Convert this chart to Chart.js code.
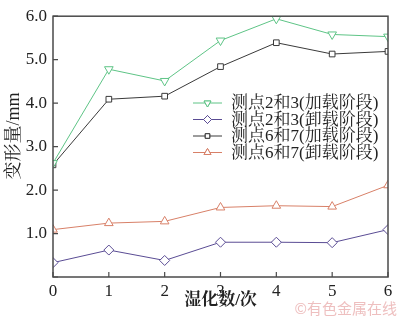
<!DOCTYPE html>
<html>
<head>
<meta charset="utf-8">
<script src="https://cdn.jsdelivr.net/npm/chart.js@4/dist/chart.umd.min.js"></script>
<style>
  html, body { margin: 0; padding: 0; background: #fff; }
  #wrap { width: 400px; height: 323px; position: relative; }
</style>
</head>
<body>
<div id="wrap"><canvas id="deformChart"></canvas></div>
<script>
// 湿化次数
const cycles = [0, 1, 2, 3, 4, 5, 6];

// 变形量 (mm)
const p23Load = [2.62, 4.78, 4.51, 5.44, 5.94, 5.58, 5.53];
const p23Unload = [0.33, 0.62, 0.38, 0.80, 0.80, 0.79, 1.09];
const p67Load = [2.58, 4.09, 4.16, 4.84, 5.39, 5.13, 5.19];
const p67Unload = [1.09, 1.24, 1.28, 1.60, 1.64, 1.62, 2.11];

const seriesNames = [
    '测点2和3(加载阶段)',
    '测点2和3(卸载阶段)',
    '测点6和7(加载阶段)',
    '测点6和7(卸载阶段)'
];

const serif = '"Liberation Serif", "Noto Sans CJK SC", serif';
const cjk = '"Liberation Serif", "Noto Serif CJK SC", "Noto Sans CJK SC", serif';
const axisColor = '#4a4a4a';

function toPoints(ys) {
    return ys.map((y, i) => ({ x: cycles[i], y: y }));
}

// Box, inward ticks, axis titles, legend and watermark
const decorations = {
    id: 'decorations',
    afterDraw(chart) {
        const ctx = chart.ctx;
        const area = chart.chartArea;
        const xs = chart.scales.x;
        const ys = chart.scales.y;
        ctx.save();
        ctx.strokeStyle = axisColor;
        ctx.lineWidth = 1.5;
        ctx.strokeRect(area.left, area.top, area.right - area.left, area.bottom - area.top);

        ctx.lineWidth = 1.2;
        ctx.beginPath();
        xs.ticks.forEach(t => {
            const px = xs.getPixelForValue(t.value);
            ctx.moveTo(px, area.bottom);
            ctx.lineTo(px, area.bottom - 5);
        });
        ys.ticks.forEach(t => {
            const py = ys.getPixelForValue(t.value);
            ctx.moveTo(area.left, py);
            ctx.lineTo(area.left + 5, py);
        });
        ctx.stroke();

        // axis titles
        ctx.fillStyle = '#222';
        ctx.font = 'bold 17px ' + cjk;
        ctx.textAlign = 'center';
        ctx.textBaseline = 'middle';
        ctx.fillText('湿化数/次', (area.left + area.right) / 2, 301);
        ctx.save();
        ctx.translate(14, 136);
        ctx.rotate(-Math.PI / 2);
        ctx.font = '18px ' + cjk;
        ctx.fillText('变形量/mm', 0, 0);
        ctx.restore();

        // legend
        ctx.font = '17px ' + cjk;
        ctx.textAlign = 'left';
        chart.data.datasets.forEach((ds, i) => {
            const y = 103 + i * 16.5;
            ctx.strokeStyle = ds.borderColor;
            ctx.lineWidth = 1;
            ctx.beginPath();
            ctx.moveTo(193, y);
            ctx.lineTo(222, y);
            ctx.stroke();
            Chart.helpers.drawPoint(ctx, {
                pointStyle: ds.pointStyle,
                radius: ds.pointRadius * 0.8,
                rotation: ds.pointRotation || 0,
                borderWidth: 1
            }, 207.5, y);
            ctx.fillStyle = '#fff';
            ctx.fill();
            ctx.stroke();
            ctx.fillStyle = '#222';
            ctx.fillText(ds.label, 231, y + 1);
        });

        // watermark
        ctx.font = '15px "Noto Sans CJK SC", sans-serif';
        ctx.fillStyle = 'rgba(232, 170, 170, 0.75)';
        ctx.textAlign = 'right';
        ctx.fillText('©有色金属在线', 397, 308);
        ctx.restore();
    }
};

const deformCtx = document.getElementById('deformChart').getContext('2d');
const deformChart = new Chart(deformCtx, {
    type: 'line',
    data: {
        datasets: [{
            label: seriesNames[0],
            data: toPoints(p23Load),
            borderColor: '#5ec486',
            pointStyle: 'triangle',
            pointRotation: 180,
            pointRadius: 5
        }, {
            label: seriesNames[1],
            data: toPoints(p23Unload),
            borderColor: '#5a4c94',
            pointStyle: 'rectRot',
            pointRadius: 5
        }, {
            label: seriesNames[2],
            data: toPoints(p67Load),
            borderColor: '#3a3a3a',
            pointStyle: 'rect',
            pointRadius: 4
        }, {
            label: seriesNames[3],
            data: toPoints(p67Unload),
            borderColor: '#d88068',
            pointStyle: 'triangle',
            pointRadius: 5
        }].map(ds => Object.assign(ds, {
            borderWidth: 1,
            pointBorderWidth: 1,
            pointBorderColor: ds.borderColor,
            pointBackgroundColor: '#fff',
            tension: 0,
            fill: false
        }))
    },
    options: {
        responsive: true,
        maintainAspectRatio: false,
        animation: false,
        layout: { padding: { top: 7, right: 12, left: 0, bottom: 0 } },
        plugins: {
            legend: { display: false },
            tooltip: { enabled: false }
        },
        scales: {
            x: {
                type: 'linear',
                min: 0,
                max: 6,
                grid: { display: false, drawTicks: false },
                border: { display: false },
                ticks: {
                    stepSize: 1,
                    padding: 4,
                    color: '#222',
                    font: { family: serif, size: 17 }
                },
                afterFit(scale) { scale.height = 46; }
            },
            y: {
                min: 0,
                max: 6,
                grid: { display: false, drawTicks: false },
                border: { display: false },
                ticks: {
                    stepSize: 1,
                    padding: 6,
                    color: '#222',
                    font: { family: serif, size: 17 },
                    callback: v => v === 0 ? '' : v.toFixed(1)
                },
                afterFit(scale) { scale.width = 53; }
            }
        }
    },
    plugins: [decorations]
});
</script>
</body>
</html>
